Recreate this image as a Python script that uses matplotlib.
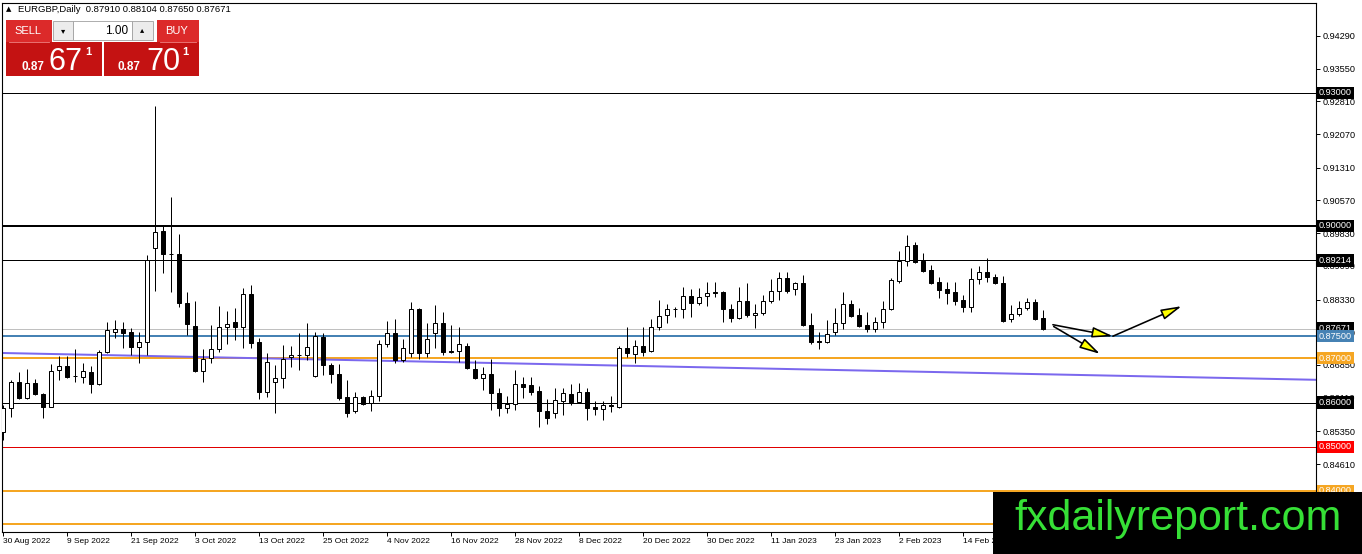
import matplotlib.pyplot as plt
from matplotlib.patches import Rectangle, FancyArrowPatch
from matplotlib.transforms import blended_transform_factory
import numpy as np

plt.rcParams['font.family'] = ['Liberation Sans', 'DejaVu Sans']

header = "EURGBP,Daily  0.87910 0.88104 0.87650 0.87671"

# daily OHLC, 30 Aug 2022 .. 28 Feb 2023
opens = [0.8533, 0.8588, 0.8646, 0.8610, 0.8644, 0.8619, 0.8590, 0.8674, 0.8683, 0.8661,
         0.8658, 0.8669, 0.8642, 0.8714, 0.8760, 0.8766, 0.8760, 0.8726, 0.8737, 0.8949,
         0.8988, 0.8936, 0.8935, 0.8825, 0.8773, 0.8671, 0.8701, 0.8721, 0.8771, 0.8782,
         0.8771, 0.8845, 0.8737, 0.8624, 0.8646, 0.8655, 0.8703, 0.8708, 0.8707, 0.8660,
         0.8748, 0.8685, 0.8665, 0.8613, 0.8581, 0.8613, 0.8599, 0.8615, 0.8732, 0.8757,
         0.8696, 0.8712, 0.8812, 0.8712, 0.8757, 0.8780, 0.8717, 0.8717, 0.8728, 0.8676,
         0.8655, 0.8665, 0.8622, 0.8588, 0.8597, 0.8642, 0.8640, 0.8626, 0.8581, 0.8576,
         0.8603, 0.8619, 0.8601, 0.8624, 0.8590, 0.8585, 0.8594, 0.8590, 0.8723, 0.8710,
         0.8728, 0.8717, 0.8771, 0.8798, 0.8811, 0.8812, 0.8841, 0.8825, 0.8841, 0.8850,
         0.8850, 0.8812, 0.8791, 0.8830, 0.8798, 0.8802, 0.8830, 0.8852, 0.8882, 0.8857,
         0.8870, 0.8775, 0.8739, 0.8737, 0.8760, 0.8780, 0.8823, 0.8798, 0.8775, 0.8766,
         0.8782, 0.8812, 0.8875, 0.8920, 0.8956, 0.8920, 0.8900, 0.8873, 0.8857, 0.8850,
         0.8832, 0.8816, 0.8879, 0.8895, 0.8884, 0.8870, 0.8789, 0.8800, 0.8814, 0.8827,
         0.87910]
highs = [0.8594, 0.8651, 0.8669, 0.8676, 0.8653, 0.8622, 0.8687, 0.8705, 0.8705, 0.8721,
         0.8689, 0.8683, 0.8719, 0.8782, 0.8787, 0.8782, 0.8769, 0.8760, 0.8934, 0.9271,
         0.8999, 0.9065, 0.8981, 0.8850, 0.8830, 0.8721, 0.8775, 0.8818, 0.8807, 0.8814,
         0.8859, 0.8866, 0.8746, 0.8712, 0.8685, 0.8730, 0.8728, 0.8757, 0.8780, 0.8760,
         0.8757, 0.8689, 0.8687, 0.8651, 0.8624, 0.8615, 0.8628, 0.8741, 0.8784, 0.8789,
         0.8744, 0.8827, 0.8814, 0.8780, 0.8821, 0.8805, 0.8775, 0.8771, 0.8735, 0.8696,
         0.8680, 0.8698, 0.8633, 0.8615, 0.8674, 0.8658, 0.8658, 0.8637, 0.8608, 0.8633,
         0.8633, 0.8642, 0.8644, 0.8633, 0.8603, 0.8603, 0.8615, 0.8728, 0.8771, 0.8741,
         0.8771, 0.8789, 0.8832, 0.8823, 0.8816, 0.8861, 0.8857, 0.8859, 0.8873, 0.8873,
         0.8852, 0.8823, 0.8861, 0.8870, 0.8823, 0.8843, 0.8879, 0.8895, 0.8895, 0.8873,
         0.8888, 0.8802, 0.8760, 0.8787, 0.8814, 0.8850, 0.8832, 0.8814, 0.8805, 0.8793,
         0.8830, 0.8882, 0.8943, 0.8979, 0.8963, 0.8938, 0.8911, 0.8884, 0.8873, 0.8873,
         0.8843, 0.8904, 0.8909, 0.8927, 0.8891, 0.8886, 0.8821, 0.8830, 0.8836, 0.8834,
         0.88104]
lows = [0.8515, 0.8567, 0.8608, 0.8608, 0.8617, 0.8565, 0.8589, 0.8651, 0.8655, 0.8646,
        0.8644, 0.8622, 0.8640, 0.8712, 0.8746, 0.8723, 0.8708, 0.8689, 0.8708, 0.8852,
        0.8893, 0.8850, 0.8816, 0.8753, 0.8669, 0.8646, 0.8689, 0.8714, 0.8732, 0.8741,
        0.8723, 0.8723, 0.8608, 0.8613, 0.8576, 0.8633, 0.8680, 0.8674, 0.8696, 0.8658,
        0.8662, 0.8644, 0.8606, 0.8567, 0.8576, 0.8594, 0.8581, 0.8603, 0.8726, 0.8689,
        0.8692, 0.8703, 0.8698, 0.8703, 0.8723, 0.8708, 0.8712, 0.8692, 0.8676, 0.8654,
        0.8628, 0.8583, 0.8570, 0.8576, 0.8583, 0.8610, 0.8617, 0.8545, 0.8551, 0.8565,
        0.8572, 0.8594, 0.8599, 0.8561, 0.8572, 0.8561, 0.8579, 0.8588, 0.8703, 0.8689,
        0.8705, 0.8714, 0.8764, 0.8780, 0.8793, 0.8791, 0.8793, 0.8821, 0.8818, 0.8839,
        0.8782, 0.8782, 0.8789, 0.8793, 0.8769, 0.8798, 0.8825, 0.8832, 0.8848, 0.8843,
        0.8773, 0.8732, 0.8721, 0.8735, 0.8753, 0.8766, 0.8793, 0.8771, 0.8760, 0.8760,
        0.8769, 0.8809, 0.8870, 0.8909, 0.8916, 0.8895, 0.8869, 0.8836, 0.8823, 0.8821,
        0.8805, 0.8805, 0.8868, 0.8873, 0.8868, 0.8782, 0.8782, 0.8796, 0.8809, 0.8787,
        0.87650]
closes = [0.8588, 0.8646, 0.8610, 0.8644, 0.8619, 0.8590, 0.8671, 0.8683, 0.8658, 0.8660,
          0.8671, 0.8642, 0.8714, 0.8764, 0.8766, 0.8757, 0.8726, 0.8737, 0.8922, 0.8986,
          0.8936, 0.8935, 0.8825, 0.8778, 0.8671, 0.8698, 0.8721, 0.8771, 0.8778, 0.8771,
          0.8845, 0.8735, 0.8624, 0.8692, 0.8655, 0.8698, 0.8708, 0.8707, 0.8726, 0.8750,
          0.8685, 0.8665, 0.8610, 0.8576, 0.8613, 0.8597, 0.8615, 0.8732, 0.8757, 0.8696,
          0.8723, 0.8812, 0.8712, 0.8744, 0.8780, 0.8714, 0.8714, 0.8732, 0.8678, 0.8655,
          0.8665, 0.8622, 0.8588, 0.8597, 0.8642, 0.8635, 0.8624, 0.8581, 0.8565, 0.8606,
          0.8622, 0.8601, 0.8624, 0.8588, 0.8585, 0.8594, 0.8592, 0.8723, 0.8712, 0.8728,
          0.8714, 0.8771, 0.8796, 0.8812, 0.8812, 0.8841, 0.8825, 0.8839, 0.8848, 0.8848,
          0.8812, 0.8791, 0.8830, 0.8798, 0.8802, 0.8830, 0.8852, 0.8882, 0.8852, 0.8870,
          0.8775, 0.8737, 0.8737, 0.8755, 0.8780, 0.8823, 0.8796, 0.8773, 0.8766, 0.8782,
          0.8812, 0.8877, 0.8920, 0.8954, 0.8918, 0.8897, 0.8870, 0.8854, 0.8848, 0.8830,
          0.8816, 0.8879, 0.8895, 0.8884, 0.8870, 0.8784, 0.8800, 0.8814, 0.8827, 0.8789,
          0.87671]

date_labels = ["30 Aug 2022", "9 Sep 2022", "21 Sep 2022", "3 Oct 2022", "13 Oct 2022",
               "25 Oct 2022", "4 Nov 2022", "16 Nov 2022", "28 Nov 2022", "8 Dec 2022",
               "20 Dec 2022", "30 Dec 2022", "11 Jan 2023", "23 Jan 2023", "2 Feb 2023",
               "14 Feb 2023"]
date_step = 8

price_ticks = [0.94290, 0.93550, 0.92810, 0.92070, 0.91310, 0.90570, 0.89830, 0.89090,
               0.88330, 0.87590, 0.86850, 0.86110, 0.85350, 0.84610, 0.83870]

# horizontal levels: price, colour, width in px, label box
levels = [0.93000, 0.90000, 0.89214, 0.87671, 0.87500, 0.87000, 0.86000, 0.85000, 0.84000, 0.83250]
level_colors = ['black', 'black', 'black', '#c0c0c0', '#4682b4', '#f5a623', 'black', '#e00000',
                '#f5a623', '#f5a623']
level_px = [1, 2, 1, 1, 2, 2, 1, 1, 2, 2]
box_colors = ['black', 'black', 'black', 'black', '#4682b4', '#f5a623', 'black', '#ff0000',
              '#f5a623', None]

# purple trend line (two anchor points: bar index, price)
trend_a = (0, 0.8712)
trend_b = (130, 0.8664)

# drawn arrows (bar index, price)
arrows = [((131.2, 0.8776), (138.7, 0.8750)),
          ((131.3, 0.8772), (137.1, 0.8710)),
          ((138.7, 0.8750), (147.3, 0.8818))]

W, H = 1362, 554
PX = 72 / 100  # points per pixel

fig = plt.figure(figsize=(W / 100, H / 100), dpi=100)
fig.patch.set_facecolor('white')
ax = fig.add_axes([2 / W, 22 / H, 1314 / W, 529 / H])

n = len(opens)
x = np.arange(n)
o = np.array(opens)
c = np.array(closes)
hi = np.array(highs)
lo = np.array(lows)
up = c >= o

# levels + trend line under the candles
for lv, col, w in zip(levels, level_colors, level_px):
    ax.axhline(lv, color=col, lw=w * PX, zorder=1)
ax.axline(trend_a, trend_b, color='#7b68ee', lw=2 * PX, zorder=1)

ax.vlines(x, lo, hi, color='black', lw=1 * PX, zorder=2)
body_lo = np.minimum(o, c)
body_h = np.maximum(np.abs(c - o), 0.00003)
ax.bar(x[up], body_h[up], bottom=body_lo[up], width=0.55, color='white',
       edgecolor='black', lw=1 * PX, zorder=3)
ax.bar(x[~up], body_h[~up], bottom=body_lo[~up], width=0.55, color='black',
       edgecolor='black', lw=1 * PX, zorder=3)

for a, b in arrows:
    ar = FancyArrowPatch(a, b, arrowstyle='-|>,head_length=1.25,head_width=0.32',
                         mutation_scale=10, lw=1.6 * PX, ec='black', fc='#ffff00',
                         shrinkA=0, shrinkB=0, zorder=5)
    ax.add_patch(ar)

ax.set_xlim(-0.16, 164.09)
ax.set_ylim(0.830724, 0.950352)

ax.yaxis.tick_right()
ax.set_yticks(price_ticks)
ax.set_yticklabels([f"{t:.5f}" for t in price_ticks])
ax.tick_params(axis='y', length=3, width=0.7, pad=2, labelsize=6.6, direction='out')
ax.set_xticks(np.arange(len(date_labels)) * date_step)
ax.set_xticklabels(date_labels)
for lab in ax.get_xticklabels():
    lab.set_horizontalalignment('left')
ax.tick_params(axis='x', length=3, width=0.7, pad=1.5, labelsize=6.0, direction='out')
for s in ax.spines.values():
    s.set_linewidth(0.8)

# price boxes on the right scale
tr = blended_transform_factory(ax.transAxes, ax.transData)
for lv, bc in zip(levels, box_colors):
    if bc is None:
        continue
    ax.text(1 + 3 / 1314, lv, f"{lv:.5f}", transform=tr, ha='left', va='center',
            fontsize=6.6, color='white', clip_on=False, zorder=10,
            bbox=dict(boxstyle='square,pad=0.18', fc=bc, ec='none'))

# overlay in pixel coordinates: header, trade panel, watermark
ov = fig.add_axes([0, 0, 1, 1], zorder=20)
ov.set_xlim(0, W)
ov.set_ylim(H, 0)
ov.axis('off')
ov.patch.set_alpha(0)

ov.text(6, 9, "▲", fontsize=5, va='center', ha='left', family=['DejaVu Sans'])
ov.text(18, 9, header, fontsize=6.8, va='center', ha='left')

red_top = '#dc2a2a'
red_low = '#c41212'
ov.add_patch(Rectangle((6, 20), 46, 22, fc=red_top, ec='none'))
ov.add_patch(Rectangle((157, 20), 42, 22, fc=red_top, ec='none'))
ov.add_patch(Rectangle((6, 42), 96, 34, fc=red_low, ec='none'))
ov.add_patch(Rectangle((104, 42), 95, 34, fc=red_low, ec='none'))
ov.plot([9, 49], [41.5, 41.5], color='#f08080', lw=0.6)
ov.plot([160, 196], [41.5, 41.5], color='#f08080', lw=0.6)
ov.add_patch(Rectangle((53, 21), 20, 19, fc='#ececec', ec='#a0a0a0', lw=0.6))
ov.add_patch(Rectangle((73, 21), 59, 19, fc='white', ec='#a0a0a0', lw=0.6))
ov.add_patch(Rectangle((132, 21), 21, 19, fc='#ececec', ec='#a0a0a0', lw=0.6))
ov.text(63, 31, "▾", fontsize=6, ha='center', va='center', family=['DejaVu Sans'])
ov.text(142.5, 30, "▴", fontsize=6, ha='center', va='center', family=['DejaVu Sans'])
ov.text(128, 30.5, "1.00", fontsize=8.5, ha='right', va='center')
ov.text(28, 31, "SELL", fontsize=8, ha='center', va='center', color='white')
ov.text(177, 31, "BUY", fontsize=8, ha='center', va='center', color='white')

ov.text(21, 70, "0.87", fontsize=8.5, fontweight='bold', color='white', ha='left', va='baseline')
ov.text(48, 70, "67", fontsize=22, color='white', ha='left', va='baseline')
ov.text(85, 55, "1", fontsize=8, fontweight='bold', color='white', ha='left', va='baseline')
ov.text(118, 70, "0.87", fontsize=8.5, fontweight='bold', color='white', ha='left', va='baseline')
ov.text(146, 70, "70", fontsize=22, color='white', ha='left', va='baseline')
ov.text(182, 55, "1", fontsize=8, fontweight='bold', color='white', ha='left', va='baseline')

ov.add_patch(Rectangle((993, 492), W - 993, H - 492, fc='black', ec='none'))
ov.text(1178, 530, "fxdailyreport.com", fontsize=31, color='#36e036', ha='center',
        va='baseline')

fig.savefig('out.png', dpi=100, facecolor='white')
